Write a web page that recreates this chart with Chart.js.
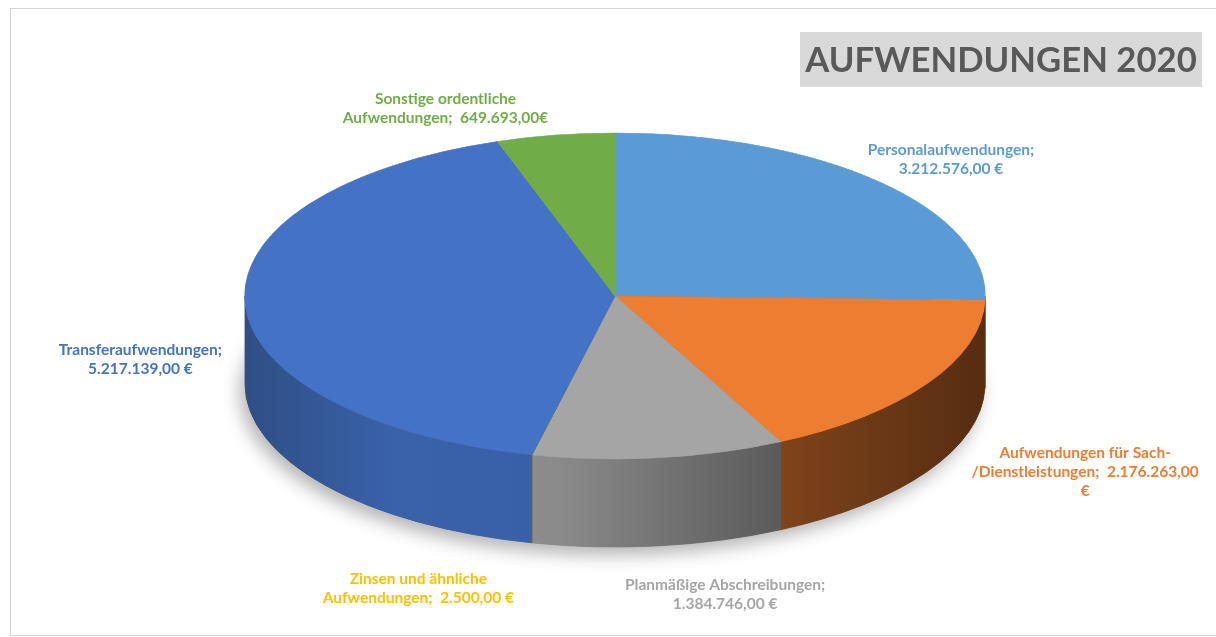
<!DOCTYPE html>
<html>
<head>
<meta charset="utf-8">
<script src="https://cdn.jsdelivr.net/npm/chart.js@4.4.1/dist/chart.umd.min.js"></script>
<style>
  html, body { margin: 0; padding: 0; background: #fff; }
  #wrap { width: 1216px; height: 637px; position: relative; }
</style>
</head>
<body>
<div id="wrap"><canvas id="myChart"></canvas></div>
<script>
const title = 'AUFWENDUNGEN 2020';
const categories = [
    'Personalaufwendungen',
    'Aufwendungen für Sach-/Dienstleistungen',
    'Planmäßige Abschreibungen',
    'Zinsen und ähnliche Aufwendungen',
    'Transferaufwendungen',
    'Sonstige ordentliche Aufwendungen',
];
const values = [3212576, 2176263, 1384746, 2500, 5217139, 649693];
const colors = ['#5B9BD5', '#ED7D31', '#A5A5A5', '#FFC000', '#4472C4', '#70AD47'];

// german money format, 1234567 -> 1.234.567,00
function euro(v) {
    let s = String(Math.round(v));
    s = s.replace(/\B(?=(\d{3})+(?!\d))/g, '.');
    return s + ',00';
}

// data labels wrapped the way the original does it
const labelLines = [
    ['Personalaufwendungen;', euro(values[0]) + ' €'],
    ['Aufwendungen für Sach-', '/Dienstleistungen;  ' + euro(values[1]), '€'],
    ['Planmäßige Abschreibungen;', euro(values[2]) + ' €'],
    ['Zinsen und ähnliche', 'Aufwendungen;  ' + euro(values[3]) + ' €'],
    ['Transferaufwendungen;', euro(values[4]) + ' €'],
    ['Sonstige ordentliche', 'Aufwendungen;  ' + euro(values[5]) + '€'],
];

// where the tilted pie sits on the page
const geom = { cx: 615, cy: 296, rx: 370, ry: 163, depth: 88 };
// label offset from the slice edge
const labelOffset = [[71, -23], [158, 41], [66, 49], [-114, 48], [-105, 51], [-110, -27]];

function shade(hex, f) {
    const n = parseInt(hex.slice(1), 16);
    const r = Math.round(((n >> 16) & 255) * f);
    const g = Math.round(((n >> 8) & 255) * f);
    const b = Math.round((n & 255) * f);
    return 'rgb(' + r + ',' + g + ',' + b + ')';
}

const pie3d = {
    id: 'pie3d',
    beforeDraw(chart) {
        const ctx = chart.ctx;
        ctx.save();
        ctx.strokeStyle = '#d4d4d4';
        ctx.lineWidth = 1;
        ctx.strokeRect(10.5, 8.5, 1220, 627);
        ctx.restore();
    },
    beforeDatasetsDraw(chart) {
        const ctx = chart.ctx;
        const arcs = chart.getDatasetMeta(0).data;
        const { cx, cy, rx, ry, depth } = geom;

        // soft shadow under the whole pie
        ctx.save();
        ctx.shadowColor = 'rgba(0,0,0,0.3)';
        ctx.shadowBlur = 18;
        ctx.shadowOffsetX = -5;
        ctx.shadowOffsetY = 8;
        ctx.fillStyle = '#666';
        ctx.beginPath();
        ctx.ellipse(cx, cy + depth, rx, ry, 0, 0, Math.PI * 2);
        ctx.fill();
        ctx.restore();

        // side walls of the front half
        arcs.forEach((arc, i) => {
            const p = arc.getProps(['startAngle', 'endAngle'], true);
            const a1 = Math.max(p.startAngle, 0);
            const a2 = Math.min(p.endAngle, Math.PI);
            if (a2 <= a1) return;
            const grad = ctx.createLinearGradient(cx - rx, 0, cx + rx, 0);
            grad.addColorStop(0, shade(colors[i], 0.68));
            grad.addColorStop(0.2, shade(colors[i], 0.86));
            grad.addColorStop(0.42, shade(colors[i], 0.84));
            grad.addColorStop(0.75, shade(colors[i], 0.52));
            grad.addColorStop(1, shade(colors[i], 0.36));
            ctx.save();
            ctx.fillStyle = grad;
            ctx.strokeStyle = grad;
            ctx.lineWidth = 0.8;
            ctx.beginPath();
            ctx.ellipse(cx, cy, rx, ry, 0, a1, a2, false);
            ctx.lineTo(cx + rx * Math.cos(a2), cy + ry * Math.sin(a2) + depth);
            ctx.ellipse(cx, cy + depth, rx, ry, 0, a2, a1, true);
            ctx.closePath();
            ctx.fill();
            ctx.stroke();
            ctx.restore();
        });

        // squash the flat pie into the top face
        const a0 = arcs[0].getProps(['x', 'y', 'outerRadius'], true);
        ctx.save();
        ctx.translate(cx, cy);
        ctx.scale(rx / a0.outerRadius, ry / a0.outerRadius);
        ctx.translate(-a0.x, -a0.y);
    },
    afterDatasetsDraw(chart) {
        chart.ctx.restore();
    },
    afterDraw(chart) {
        const ctx = chart.ctx;
        const arcs = chart.getDatasetMeta(0).data;
        const { cx, cy, rx, ry, depth } = geom;

        // title box
        ctx.save();
        ctx.fillStyle = '#d9d9d9';
        ctx.fillRect(800, 32, 402, 55);
        let size = 40;
        ctx.font = 'bold ' + size + 'px Lato';
        size = size * 392 / ctx.measureText(title).width;
        ctx.font = 'bold ' + size.toFixed(1) + 'px Lato';
        ctx.fillStyle = '#595959';
        ctx.textAlign = 'center';
        ctx.textBaseline = 'middle';
        ctx.fillText(title, 1001, 61);
        ctx.restore();

        // data labels
        ctx.save();
        ctx.font = 'bold 15.5px Lato';
        ctx.textAlign = 'center';
        ctx.textBaseline = 'middle';
        arcs.forEach((arc, i) => {
            const p = arc.getProps(['startAngle', 'endAngle'], true);
            const mid = (p.startAngle + p.endAngle) / 2;
            const s = Math.sin(mid);
            const ex = cx + rx * Math.cos(mid);
            const ey = cy + ry * s + depth * Math.max(0, s);
            const lx = ex + labelOffset[i][0];
            const ly = ey + labelOffset[i][1];
            const lines = labelLines[i];
            const lh = 19;
            ctx.fillStyle = colors[i];
            lines.forEach((t, k) => {
                ctx.fillText(t, lx, ly + (k - (lines.length - 1) / 2) * lh);
            });
        });
        ctx.restore();
    }
};

const chart = new Chart(document.getElementById('myChart'), {
    type: 'pie',
    data: {
        labels: categories,
        datasets: [{
            data: values,
            backgroundColor: colors,
            borderColor: colors,
            borderWidth: 1,
            clip: false,
        }]
    },
    options: {
        responsive: true,
        maintainAspectRatio: false,
        animation: false,
        events: [],
        plugins: {
            legend: { display: false },
            tooltip: { enabled: false },
        }
    },
    plugins: [pie3d],
});
</script>
</body>
</html>
